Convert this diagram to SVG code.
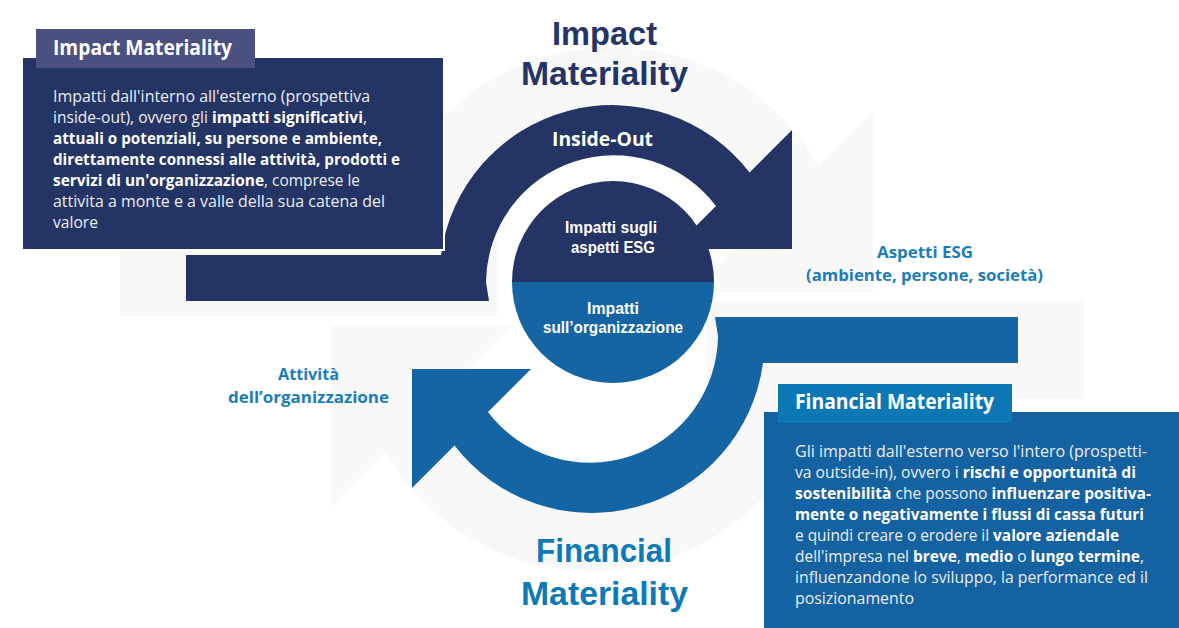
<svg xmlns="http://www.w3.org/2000/svg" width="1179" height="628" viewBox="0 0 1179 628">
  <defs>
    <style>
      .bg { fill: #f8f8f8; }
      .navy { fill: #243465; }
      .blue { fill: #1565a5; }
      .h { font-family: "Open Sans", "Liberation Sans", sans-serif; font-weight: 700; }
      .t { font-family: "Liberation Sans", "Open Sans", sans-serif; font-weight: 700; }
      .b { font-family: "Open Sans", "Liberation Sans", sans-serif; font-size: 15.5px; fill: #eceef5; }
      .b tspan.s { font-weight: 700; fill: #ffffff; }
      .lbl { font-family: "Open Sans", "Liberation Sans", sans-serif; font-weight: 700; font-size: 16px; fill: #1a7db9; text-anchor: middle; }
      .in { font-family: "Liberation Sans", "Open Sans", sans-serif; font-weight: 700; font-size: 16px; fill: #ffffff; text-anchor: middle; }
    </style>
    <path id="bgShape" d="M120,219 L384.5,219 A237,237 0 0 1 818.5,166.5 L873,112 L873,292 L693,292 L735,250 A128,128 0 0 0 497,228 L497,316 L120,316 Z"/>
    <path id="arrowShape" d="M186,255 L441,255 A173,173 0 0 1 749.5,172.5 L792,130 L792,249 L673,249 L716,206 A128,128 0 0 0 486,282 L489,301 L186,301 Z"/>
  </defs>

  <rect x="0" y="0" width="1179" height="628" fill="#ffffff"/>

  <g id="background">
    <use href="#bgShape" class="bg"/>
    <use href="#bgShape" class="bg" transform="rotate(180 602 309)"/>
  </g>

  <g id="connectors">
    <use id="inside-out-arrow" href="#arrowShape" class="navy"/>
    <use id="outside-in-arrow" href="#arrowShape" class="blue" transform="rotate(180 602 309)"/>
  </g>

  <g id="center-circle">
    <path d="M512,282 A101,101 0 0 1 714,282 Z" class="navy"/>
    <path d="M512,282 A101,101 0 0 0 714,282 Z" class="blue"/>
    <text class="in" x="611" y="233" textLength="92" lengthAdjust="spacingAndGlyphs">Impatti sugli</text>
    <text class="in" x="613" y="253" textLength="84" lengthAdjust="spacingAndGlyphs">aspetti ESG</text>
    <text class="in" x="613" y="314" textLength="52" lengthAdjust="spacingAndGlyphs">Impatti</text>
    <text class="in" x="613" y="333" textLength="140" lengthAdjust="spacingAndGlyphs">sull’organizzazione</text>
  </g>

  <g id="arrow-labels">
    <text class="h" x="602.5" y="146" font-size="20" fill="#ffffff" text-anchor="middle" textLength="101" lengthAdjust="spacingAndGlyphs">Inside-Out</text>
  </g>

  <g id="title-impact">
    <text class="t" x="604.5" y="45" font-size="34" fill="#253466" text-anchor="middle" textLength="105" lengthAdjust="spacingAndGlyphs">Impact</text>
    <text class="t" x="604.5" y="85" font-size="34" fill="#253466" text-anchor="middle" textLength="167" lengthAdjust="spacingAndGlyphs">Materiality</text>
  </g>

  <g id="title-financial">
    <text class="t" x="604" y="562" font-size="34" fill="#0e79b7" text-anchor="middle" textLength="136" lengthAdjust="spacingAndGlyphs">Financial</text>
    <text class="t" x="604.5" y="605" font-size="34" fill="#0e79b7" text-anchor="middle" textLength="167" lengthAdjust="spacingAndGlyphs">Materiality</text>
  </g>

  <g id="label-esg">
    <text class="lbl" x="925" y="258" textLength="96" lengthAdjust="spacingAndGlyphs">Aspetti ESG</text>
    <text class="lbl" x="924.5" y="281" textLength="237" lengthAdjust="spacingAndGlyphs">(ambiente, persone, società)</text>
  </g>

  <g id="label-org">
    <text class="lbl" x="308.5" y="380" textLength="61" lengthAdjust="spacingAndGlyphs">Attività</text>
    <text class="lbl" x="308.5" y="403" textLength="161" lengthAdjust="spacingAndGlyphs">dell’organizzazione</text>
  </g>

  <g id="impact-box">
    <rect x="22" y="57" width="422" height="193" class="navy" stroke="#ffffff" stroke-width="2"/>
    <rect x="36" y="29" width="219" height="39" fill="#4b5080"/>
    <text class="h" x="53" y="54.5" font-size="20.5" fill="#ffffff" textLength="179" lengthAdjust="spacingAndGlyphs">Impact Materiality</text>
    <text class="b" x="53" y="101.5" textLength="317" lengthAdjust="spacingAndGlyphs">Impatti dall'interno all'esterno (prospettiva</text>
    <text class="b" x="53" y="122.6" textLength="314" lengthAdjust="spacingAndGlyphs">inside-out), ovvero gli <tspan class="s">impatti significativi</tspan>,</text>
    <text class="b" x="53" y="143.7" textLength="329" lengthAdjust="spacingAndGlyphs"><tspan class="s">attuali o potenziali, su persone e ambiente,</tspan></text>
    <text class="b" x="53" y="164.8" textLength="347" lengthAdjust="spacingAndGlyphs"><tspan class="s">direttamente connessi alle attività, prodotti e</tspan></text>
    <text class="b" x="53" y="185.9" textLength="307" lengthAdjust="spacingAndGlyphs"><tspan class="s">servizi di un'organizzazione</tspan>, comprese le</text>
    <text class="b" x="53" y="207" textLength="332" lengthAdjust="spacingAndGlyphs">attivita a monte e a valle della sua catena del</text>
    <text class="b" x="53" y="228.1" textLength="45" lengthAdjust="spacingAndGlyphs">valore</text>
  </g>

  <g id="financial-box">
    <rect x="764" y="412" width="420" height="220" fill="#1462a2"/>
    <rect x="778" y="384" width="234" height="39" fill="#0b78b5"/>
    <text class="h" x="795" y="409" font-size="20.5" fill="#ffffff" textLength="199" lengthAdjust="spacingAndGlyphs">Financial Materiality</text>
    <text class="b" x="795" y="457" textLength="352" lengthAdjust="spacingAndGlyphs">Gli impatti dall'esterno verso l'intero (prospetti-</text>
    <text class="b" x="795" y="478" textLength="341" lengthAdjust="spacingAndGlyphs">va outside-in), ovvero i <tspan class="s">rischi e opportunità di</tspan></text>
    <text class="b" x="795" y="499" textLength="356" lengthAdjust="spacingAndGlyphs"><tspan class="s">sostenibilità</tspan> che possono <tspan class="s">influenzare positiva-</tspan></text>
    <text class="b" x="795" y="520" textLength="349" lengthAdjust="spacingAndGlyphs"><tspan class="s">mente o negativamente i flussi di cassa futuri</tspan></text>
    <text class="b" x="795" y="541" textLength="324" lengthAdjust="spacingAndGlyphs">e quindi creare o erodere il <tspan class="s">valore aziendale</tspan></text>
    <text class="b" x="795" y="562" textLength="349" lengthAdjust="spacingAndGlyphs">dell'impresa nel <tspan class="s">breve</tspan>, <tspan class="s">medio</tspan> o <tspan class="s">lungo termine</tspan>,</text>
    <text class="b" x="795" y="583" textLength="353" lengthAdjust="spacingAndGlyphs">influenzandone lo sviluppo, la performance ed il</text>
    <text class="b" x="795" y="604" textLength="119" lengthAdjust="spacingAndGlyphs">posizionamento</text>
  </g>
</svg>
